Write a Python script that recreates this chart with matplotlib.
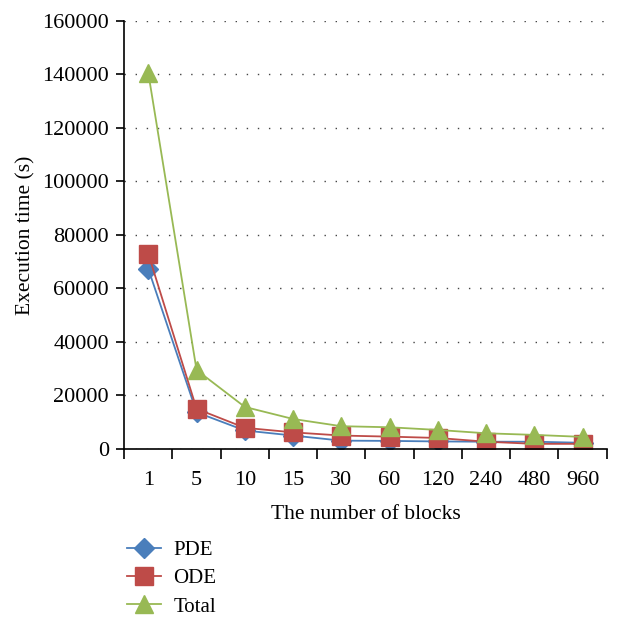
import numpy as np
import matplotlib.pyplot as plt

# data
blocks = ["1", "5", "10", "15", "30", "60", "120", "240", "480", "960"]
pde = [67300, 13700, 6900, 5000, 3100, 3000, 2800, 2700, 2700, 2300]
ode = [72900, 15000, 7900, 6200, 5000, 4600, 4100, 2700, 1900, 1900]
total = [140500, 29500, 15700, 11200, 8500, 8100, 7100, 5850, 5250, 4500]

plt.rcParams["font.family"] = ["Liberation Serif", "DejaVu Serif"]

fig = plt.figure(figsize=(6.21, 6.27), dpi=100)
ax = fig.add_axes([0.2, 0.284, 0.777, 0.6825])

x = np.arange(len(blocks))
ax.plot(x, pde, color="#4a7ebb", marker="D", markersize=10, lw=1.3, label="PDE")
ax.plot(x, ode, color="#be4b48", marker="s", markersize=13, lw=1.3, label="ODE")
ax.plot(x, total, color="#98b954", marker="^", markersize=13, lw=1.3, label="Total")

ax.set_xlim(-0.5, len(blocks) - 0.5)
ax.set_ylim(0, 160000)
ax.set_yticks(np.arange(0, 160001, 20000))
ax.yaxis.grid(True, linestyle=(0, (1, 7)), color="#444444", lw=1.0)
ax.set_axisbelow(True)

# ticks between categories, labels at the centres
ax.set_xticks(np.arange(-0.5, len(blocks), 1.0))
ax.set_xticklabels([])
ax.set_xticks(x, minor=True)
ax.set_xticklabels(blocks, minor=True, fontsize=16)
ax.tick_params(axis="x", which="minor", length=0, pad=16)
ax.tick_params(axis="x", which="major", length=7, width=1.2, direction="out")
ax.tick_params(axis="y", length=6, width=1.2, direction="out", labelsize=16, pad=5)

for s in ["top", "right"]:
    ax.spines[s].set_visible(False)
ax.spines["left"].set_linewidth(1.2)
ax.spines["bottom"].set_linewidth(1.2)

ax.set_xlabel("The number of blocks", fontsize=15.5, labelpad=11)
ax.set_ylabel("Execution time (s)", fontsize=15.5, labelpad=5)

fig.legend(loc="upper left", bbox_to_anchor=(0.175, 0.168), frameon=False,
           fontsize=15, handlelength=1.6, labelspacing=0.42, handletextpad=0.6)

fig.savefig("out.png", dpi=100)
